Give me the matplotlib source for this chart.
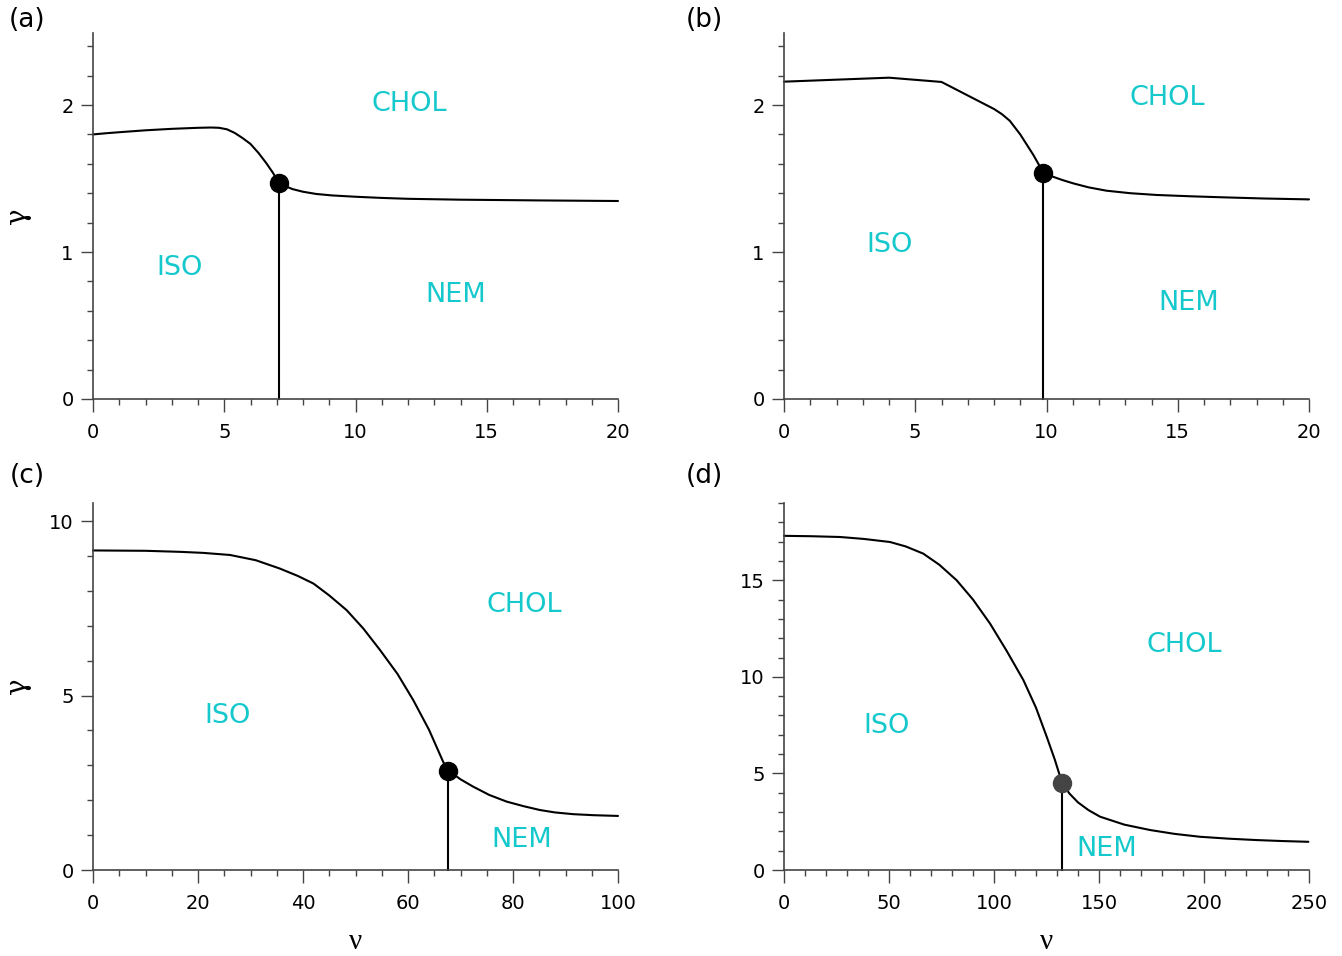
import matplotlib
matplotlib.use("Agg")
import matplotlib.pyplot as plt
from matplotlib.ticker import MultipleLocator

# ---------------- data ----------------
# panel (a)
a_upper_x = [0, 0.5, 1, 2, 3, 4, 4.5, 4.8, 5.1, 5.4, 5.7, 6.0, 6.3, 6.6, 6.85, 7.09]
a_upper_y = [1.80, 1.808, 1.815, 1.828, 1.838, 1.845, 1.847, 1.845, 1.835, 1.81,
             1.775, 1.735, 1.675, 1.605, 1.54, 1.47]
a_lower_x = [7.09, 7.3, 7.6, 8.0, 8.5, 9.1, 10.0, 11.0, 12.0, 14.0, 17.0, 20.0]
a_lower_y = [1.47, 1.45, 1.428, 1.41, 1.395, 1.385, 1.376, 1.368, 1.362, 1.356, 1.351, 1.347]
a_crit = (7.09, 1.47)

# panel (b)
b_upper_x = [0, 4.0, 6.0, 8.0, 8.3, 8.6, 9.0, 9.5, 9.88]
b_upper_y = [2.159, 2.186, 2.157, 1.973, 1.938, 1.893, 1.80, 1.66, 1.54]
b_lower_x = [9.88, 10.2, 10.6, 11.02, 11.6, 12.29, 13.2, 14.2, 15.5, 16.74, 18.3, 20.0]
b_lower_y = [1.54, 1.515, 1.49, 1.467, 1.44, 1.417, 1.40, 1.388, 1.379, 1.372, 1.364, 1.358]
b_crit = (9.88, 1.54)

# panel (c)
c_upper_x = [0, 10, 16.6, 21, 26.1, 31, 35.6, 39, 42.0, 45, 48.3, 51.5, 54.7, 58,
             61.0, 64, 66.7, 67.7]
c_upper_y = [9.16, 9.15, 9.12, 9.09, 9.03, 8.88, 8.64, 8.43, 8.21, 7.87, 7.45, 6.92,
             6.30, 5.62, 4.87, 4.02, 3.10, 2.85]
c_lower_x = [67.7, 70, 72.4, 75.5, 78.8, 82, 85.1, 88, 91.5, 95.5, 100.0]
c_lower_y = [2.85, 2.60, 2.39, 2.15, 1.96, 1.83, 1.72, 1.65, 1.60, 1.57, 1.55]
c_crit = (67.7, 2.85)

# panel (d)
d_upper_x = [0, 13, 26.7, 38, 50.5, 58, 66.3, 74, 82.2, 90, 98.1, 106, 114.0, 120,
             125.1, 129, 132.5]
d_upper_y = [17.30, 17.28, 17.24, 17.14, 16.98, 16.75, 16.38, 15.8, 15.0, 14.0, 12.76,
             11.35, 9.83, 8.4, 6.90, 5.7, 4.48]
d_lower_x = [132.5, 136, 140, 145, 150.5, 162, 174.3, 186, 198.1, 212, 225, 237, 249.7]
d_lower_y = [4.48, 3.95, 3.50, 3.10, 2.76, 2.35, 2.07, 1.87, 1.72, 1.62, 1.55, 1.50, 1.46]
d_crit = (132.5, 4.48)

panel_labels = ["(a)", "(b)", "(c)", "(d)"]
region_names = ["CHOL", "ISO", "NEM"]
# label positions (x, y) per panel for CHOL, ISO, NEM
a_text_pos = [(12.04, 2.01), (3.28, 0.89), (13.8, 0.71)]
b_text_pos = [(14.6, 2.05), (4.04, 1.05), (15.43, 0.65)]
c_text_pos = [(82.1, 7.59), (25.7, 4.41), (81.7, 0.86)]
d_text_pos = [(190.5, 11.64), (49.0, 7.45), (153.8, 1.09)]

# ---------------- figure ----------------
W, H = 1342, 956
fig = plt.figure(figsize=(W / 100, H / 100), dpi=100)

def box(x0, y0, x1, y1):
    return [x0 / W, 1 - y1 / H, (x1 - x0) / W, (y1 - y0) / H]

axes_boxes = [box(93, 33, 618, 399), box(784, 33, 1309, 399),
              box(93, 503, 618, 870), box(784, 503, 1309, 870)]

panels = [
    dict(up=(a_upper_x, a_upper_y), lo=(a_lower_x, a_lower_y), crit=a_crit,
         xlim=(0, 20), ylim=(0, 2.49), xmaj=5, xmin=1, ymaj=1, ymin=0.2,
         txt=a_text_pos, ccol="black"),
    dict(up=(b_upper_x, b_upper_y), lo=(b_lower_x, b_lower_y), crit=b_crit,
         xlim=(0, 20), ylim=(0, 2.49), xmaj=5, xmin=1, ymaj=1, ymin=0.2,
         txt=b_text_pos, ccol="black"),
    dict(up=(c_upper_x, c_upper_y), lo=(c_lower_x, c_lower_y), crit=c_crit,
         xlim=(0, 100), ylim=(0, 10.52), xmaj=20, xmin=5, ymaj=5, ymin=1,
         txt=c_text_pos, ccol="black"),
    dict(up=(d_upper_x, d_upper_y), lo=(d_lower_x, d_lower_y), crit=d_crit,
         xlim=(0, 250), ylim=(0, 19), xmaj=50, xmin=10, ymaj=5, ymin=1,
         txt=d_text_pos, ccol="#444444"),
]

spine_col = "#444444"
cyan = "#14c8cc"

for i, (p, bx) in enumerate(zip(panels, axes_boxes)):
    ax = fig.add_axes(bx)
    ax.set_xlim(*p["xlim"])
    ax.set_ylim(*p["ylim"])
    for s in ("top", "right"):
        ax.spines[s].set_visible(False)
    for s in ("left", "bottom"):
        ax.spines[s].set_color(spine_col)
        ax.spines[s].set_linewidth(1.2)
    ax.xaxis.set_major_locator(MultipleLocator(p["xmaj"]))
    ax.xaxis.set_minor_locator(MultipleLocator(p["xmin"]))
    ax.yaxis.set_major_locator(MultipleLocator(p["ymaj"]))
    ax.yaxis.set_minor_locator(MultipleLocator(p["ymin"]))
    ax.tick_params(which="major", direction="out", length=9, width=1.0,
                   color=spine_col, labelsize=14)
    ax.tick_params(which="minor", direction="out", length=4.5, width=1.0,
                   color=spine_col)
    ax.tick_params(axis="x", which="major", pad=8)
    ax.tick_params(axis="y", which="major", pad=5)

    ax.plot(*p["up"], color="black", lw=1.5, solid_capstyle="round",
            solid_joinstyle="round", clip_on=False)
    ax.plot(*p["lo"], color="black", lw=1.5, solid_capstyle="round",
            solid_joinstyle="round", clip_on=False)
    cx, cy = p["crit"]
    ax.plot([cx, cx], [0, cy], color="black", lw=1.5, clip_on=False)
    ax.plot([cx], [cy], "o", color=p["ccol"], ms=13, zorder=5, clip_on=False)

    for name, (tx, ty) in zip(region_names, p["txt"]):
        ax.text(tx, ty, name, color=cyan, fontsize=19.5, ha="center",
                va="center", family="DejaVu Sans")

# panel labels
for lbl, (px, py) in zip(panel_labels, [(27, 20), (704, 20), (27, 476), (704, 476)]):
    fig.text(px / W, 1 - py / H, lbl, fontsize=19, ha="center", va="center")

# axis symbols
for py in (216, 686):
    fig.text(18 / W, 1 - py / H, "γ", fontsize=20, family="DejaVu Serif",
             rotation=90, ha="center", va="center")
for px in (355, 1046):
    fig.text(px / W, 1 - 942 / H, "ν", fontsize=21, family="Liberation Serif",
             ha="center", va="center")

fig.savefig("out.png", dpi=100)
